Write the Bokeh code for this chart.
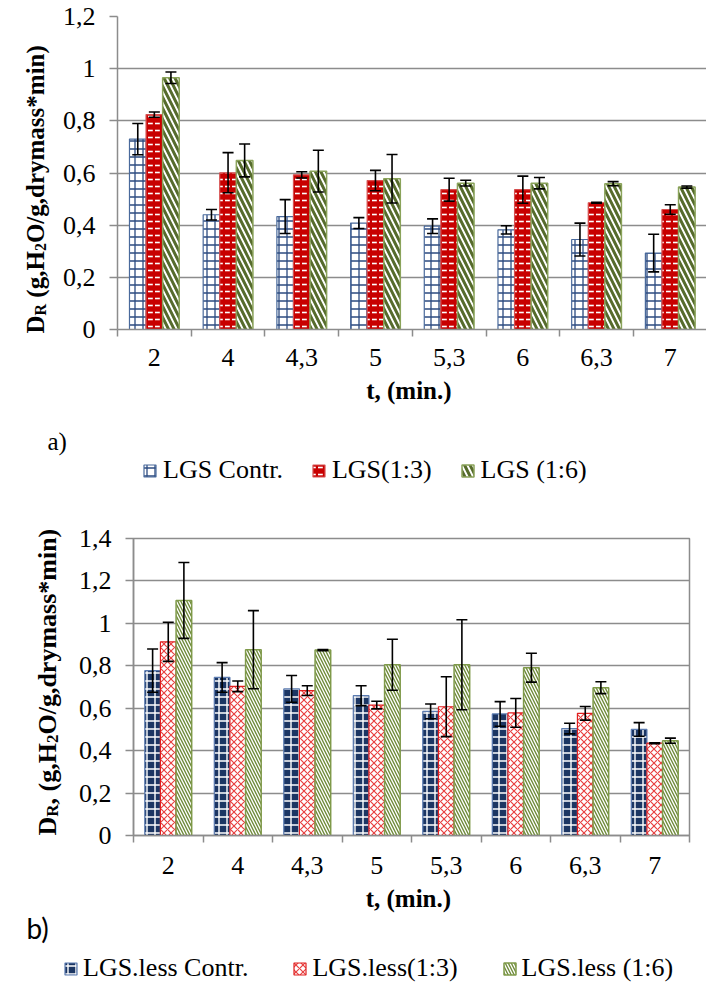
import math
from bokeh.plotting import figure
from bokeh.models import (ColumnDataSource, Range1d, FixedTicker, CustomJSTickFormatter,
                          Whisker, TeeHead, Legend, LegendItem)
from bokeh.core.properties import value
from bokeh.layouts import column, row
from bokeh.embed import file_html
from bokeh.resources import INLINE

# ---------------- data ----------------
categories = ["2", "4", "4,3", "5", "5,3", "6", "6,3", "7"]

a_names = ["LGS Contr.", "LGS(1:3)", "LGS (1:6)"]
a_contr = [0.730, 0.440, 0.433, 0.408, 0.396, 0.382, 0.345, 0.293]
a_contr_err = [0.060, 0.020, 0.065, 0.021, 0.028, 0.016, 0.063, 0.072]
a_13 = [0.824, 0.601, 0.593, 0.571, 0.536, 0.536, 0.486, 0.460]
a_13_err = [0.010, 0.077, 0.012, 0.039, 0.044, 0.052, 0.002, 0.018]
a_16 = [0.965, 0.648, 0.607, 0.578, 0.561, 0.561, 0.559, 0.546]
a_16_err = [0.022, 0.063, 0.080, 0.093, 0.011, 0.022, 0.008, 0.004]

b_names = ["LGS.less Contr.", "LGS.less(1:3)", "LGS.less (1:6)"]
b_contr = [0.777, 0.745, 0.691, 0.659, 0.585, 0.573, 0.504, 0.500]
b_contr_err = [0.102, 0.070, 0.063, 0.047, 0.035, 0.058, 0.025, 0.032]
b_13 = [0.913, 0.703, 0.683, 0.615, 0.607, 0.578, 0.576, 0.435]
b_13_err = [0.092, 0.025, 0.023, 0.018, 0.141, 0.068, 0.032, 0.002]
b_16 = [1.108, 0.876, 0.874, 0.805, 0.805, 0.791, 0.697, 0.447]
b_16_err = [0.179, 0.184, 0.003, 0.120, 0.212, 0.068, 0.028, 0.012]

a_yticks = [0, 0.2, 0.4, 0.6, 0.8, 1.0, 1.2]
a_ylabels = ["0", "0,2", "0,4", "0,6", "0,8", "1", "1,2"]
b_yticks = [0, 0.2, 0.4, 0.6, 0.8, 1.0, 1.2, 1.4]
b_ylabels = ["0", "0,2", "0,4", "0,6", "0,8", "1", "1,2", "1,4"]

x_title = "t,  (min.)"
a_ytitle = [("D", False), ("R", True), (" (g,H", False), ("2", True), ("O/g,drymass*min)", False)]
b_ytitle = [("D", False), ("R", True), (", (g,H", False), ("2", True), ("O/g,drymass*min)", False)]
a_tag = "a)"
b_tag = "b)"

# ---------------- styling ----------------
SERIF = "Liberation Serif"
GRID = "#8c8c8c"
BAR_W = 0.225

# Times-Bold advance widths (1/1000 em) used to chain the rotated title pieces
TB = {'D': 722, 'R': 722, ' ': 250, '(': 333, ')': 333, 'g': 500, ',': 250, 'H': 778,
      '2': 500, 'O': 778, '/': 278, 'd': 556, 'r': 444, 'y': 500, 'm': 833, 'a': 500,
      's': 389, '*': 500, 'i': 278, 'n': 556}

STYLE_A = [
    dict(fill_color="white", line_color="#4a6a9c", line_width=1.2,
         hatch_pattern="+", hatch_color="#2b4a80", hatch_scale=8, hatch_weight=1.3),
    dict(fill_color="#c80000", line_color="#d65050", line_width=1.2,
         hatch_pattern='"', hatch_color="white", hatch_scale=7, hatch_weight=1.6),
    dict(fill_color="white", line_color="#8aa35a", line_width=1.5,
         hatch_pattern="\\", hatch_color="#566b2c", hatch_scale=11, hatch_weight=3),
]
STYLE_B = [
    dict(fill_color="#1c3663", line_color="#5b7bb0", line_width=1.2,
         hatch_pattern="+", hatch_color="white", hatch_scale=8, hatch_weight=1.4),
    dict(fill_color="white", line_color="#e02020", line_width=1.2,
         hatch_pattern="x", hatch_color="#e84040", hatch_scale=7, hatch_weight=1.2),
    dict(fill_color="white", line_color="#7f9a4a", line_width=1.5,
         hatch_pattern="\\", hatch_color="#6f8a3a", hatch_scale=6, hatch_weight=1.4),
]


def blank_fig(w, h):
    p = figure(width=w, height=h, min_border=0, x_range=Range1d(0, w), y_range=Range1d(0, h),
               output_backend="svg", toolbar_location=None, x_axis_type=None, y_axis_type=None)
    p.min_border_left = p.min_border_right = p.min_border_top = p.min_border_bottom = 0
    p.outline_line_color = None
    p.grid.visible = False
    p.background_fill_color = "white"
    p.border_fill_color = "white"
    return p


def make_chart(frame_w, frame_h, bl, bt, br, bb, xend, ymax, yticks, ylabels, outline, xlab_standoff):
    p = figure(frame_width=frame_w, frame_height=frame_h,
               min_border_left=bl, min_border_top=bt, min_border_right=br, min_border_bottom=bb,
               x_range=Range1d(0, xend), y_range=Range1d(0, ymax),
               output_backend="svg", toolbar_location=None)
    p.background_fill_color = "white"
    p.border_fill_color = "white"
    p.outline_line_color = GRID if outline else None
    p.outline_line_width = 1.5

    n = len(categories)
    p.xaxis.ticker = FixedTicker(ticks=[i + 0.5 for i in range(n)], minor_ticks=list(range(n + 1)))
    p.xaxis.formatter = CustomJSTickFormatter(args=dict(cats=categories),
                                              code="return cats[Math.round(tick - 0.5)];")
    p.xaxis.major_tick_out = 0
    p.xaxis.major_tick_in = 0
    p.xaxis.major_tick_line_color = None
    p.xaxis.minor_tick_out = 7
    p.xaxis.minor_tick_in = 0
    p.xaxis.minor_tick_line_color = GRID
    p.xaxis.minor_tick_line_width = 1.5
    p.xaxis.axis_line_color = GRID
    p.xaxis.axis_line_width = 1.5
    p.xaxis.major_label_text_font = SERIF
    p.xaxis.major_label_text_font_size = "26px"
    p.xaxis.major_label_text_color = "black"
    p.xaxis.major_label_standoff = xlab_standoff
    p.xaxis.axis_label = x_title
    p.xaxis.axis_label_text_font = SERIF
    p.xaxis.axis_label_text_font_style = "bold"
    p.xaxis.axis_label_text_font_size = "25px"
    p.xaxis.axis_label_text_color = "black"
    p.xaxis.axis_label_standoff = 8

    p.yaxis.ticker = FixedTicker(ticks=yticks, minor_ticks=[])
    p.yaxis.formatter = CustomJSTickFormatter(
        args=dict(tvals=yticks, labs=ylabels),
        code="const k = tvals.findIndex(t => Math.abs(t - tick) < 1e-9); return k >= 0 ? labs[k] : '';")
    p.yaxis.major_tick_out = 8
    p.yaxis.major_tick_in = 0
    p.yaxis.major_tick_line_color = GRID
    p.yaxis.major_tick_line_width = 1.5
    p.yaxis.minor_tick_line_color = None
    p.yaxis.axis_line_color = GRID
    p.yaxis.axis_line_width = 1.5
    p.yaxis.major_label_text_font = SERIF
    p.yaxis.major_label_text_font_size = "26px"
    p.yaxis.major_label_text_color = "black"
    p.yaxis.major_label_standoff = 14

    p.xgrid.visible = False
    p.ygrid.ticker = FixedTicker(ticks=yticks, minor_ticks=[])
    p.ygrid.grid_line_color = GRID
    p.ygrid.grid_line_width = 1.5
    return p


def add_series(p, vals, errs, offset, style):
    n = len(categories)
    xs = [i + 0.5 + offset for i in range(n)]
    src = ColumnDataSource(dict(x=xs, top=vals,
                                upper=[v + e for v, e in zip(vals, errs)],
                                lower=[v - e for v, e in zip(vals, errs)]))
    p.vbar(x="x", top="top", bottom=0, width=BAR_W, source=src, **style)
    p.add_layout(Whisker(source=src, base="x", upper="upper", lower="lower", dimension="height",
                         line_color="black", line_width=1.6, level="overlay",
                         upper_head=TeeHead(size=11, line_color="black", line_width=1.6),
                         lower_head=TeeHead(size=11, line_color="black", line_width=1.6)))


def adv(text, size):
    return sum(TB.get(c, 500) for c in text) * size / 1000.0


def rot_title(p, pieces, start_y, base_x, big, small, sub_dx):
    """Bottom-to-top bold title in a blank figure (y measured upward, px units)."""
    y = start_y
    for text, sub in pieces:
        size = small if sub else big
        lead = len(text) - len(text.lstrip(" "))
        y += adv(" " * lead, size)
        body = text.strip(" ")
        p.text(x=[base_x + (sub_dx if sub else 0)], y=[y], text=[body], angle=math.pi / 2,
               text_align="left", text_baseline="alphabetic",
               text_font=value(SERIF), text_font_style="bold",
               text_font_size=value(f"{size}px"), text_color="black")
        y += adv(body, size)


def legend_fig(w, h, names, styles, loc, spacing, standoff, tag=None, tag_pos=None,
               tag_font=SERIF, tag_size="25px"):
    p = blank_fig(w, h)
    # hidden proxies so that the legend swatches carry the bar styles
    rs = [p.vbar(x=[-1000], top=[0], width=1, visible=False, **st) for st in styles]
    leg = Legend(items=[LegendItem(label=nm, renderers=[r]) for nm, r in zip(names, rs)],
                 location=loc, orientation="horizontal", padding=0, margin=0,
                 spacing=spacing, glyph_width=15, glyph_height=15, label_standoff=standoff,
                 label_text_font=SERIF, label_text_font_size="26px", label_text_color="black",
                 label_height=15, border_line_alpha=0, background_fill_alpha=0)
    p.add_layout(leg)
    if tag is not None:
        p.text(x=[tag_pos[0]], y=[tag_pos[1]], text=[tag], text_align="left",
               text_baseline="alphabetic", text_font=value(tag_font),
               text_font_size=value(tag_size), text_color="black")
    return p


# ================= section a (page y 0..500) =================
A_H = 410            # chart figure height
TA_W = 50            # width of the y-title strip
A_FL, A_FT, A_CW, A_FH = 117, 16, 73.7, 313
A_FW = 706 - A_FL
pa = make_chart(A_FW, A_FH, A_FL - TA_W, A_FT, 0, A_H - A_FT - A_FH, A_FW / A_CW, 1.2,
                a_yticks, a_ylabels, False, 12)
for vals, errs, off, st in zip([a_contr, a_13, a_16], [a_contr_err, a_13_err, a_16_err],
                               [-BAR_W, 0, BAR_W], STYLE_A):
    add_series(pa, vals, errs, off, st)

ta = blank_fig(TA_W, A_H)
rot_title(ta, a_ytitle, A_H - 333, 35, 25, 16, 5)

LA_H = 90
la = legend_fig(706, LA_H, a_names, STYLE_A, (142, 15), 28, 6,
                tag=a_tag, tag_pos=(47, 500 - 441), tag_font=SERIF, tag_size="25px")

# ================= section b (page y 500..986) =================
B_TOP = 500
B_H = 415
TB_W = 62
TB_H = 450
B_FL, B_FT, B_CW, B_FH = 133, 538, 69.5, 297
B_FW = 556
pb = make_chart(B_FW, B_FH, B_FL - TB_W, B_FT - B_TOP, 706 - B_FL - B_FW,
                B_H - (B_FT - B_TOP) - B_FH, 8, 1.4, b_yticks, b_ylabels, True, 14)
for vals, errs, off, st in zip([b_contr, b_13, b_16], [b_contr_err, b_13_err, b_16_err],
                               [-BAR_W, 0, BAR_W], STYLE_B):
    add_series(pb, vals, errs, off, st)

tb = blank_fig(TB_W, TB_H)
rot_title(tb, b_ytitle, B_TOP + TB_H - 835, 47, 26, 17, 5)
tb.text(x=[26], y=[B_TOP + TB_H - 927], text=[b_tag], text_align="left",
        text_baseline="alphabetic", text_font=value("Lato"),
        text_font_size=value("28px"), text_color="black")

LB_H = 986 - B_TOP - TB_H
lb = legend_fig(706, LB_H, b_names, STYLE_B, (63, 3), 44, 5)

layout = column(
    row(column(ta), column(pa), spacing=0),
    column(la),
    row(column(tb), column(pb), spacing=0),
    column(lb),
    spacing=0,
)
open("out.html", "w").write(file_html(layout, INLINE))
